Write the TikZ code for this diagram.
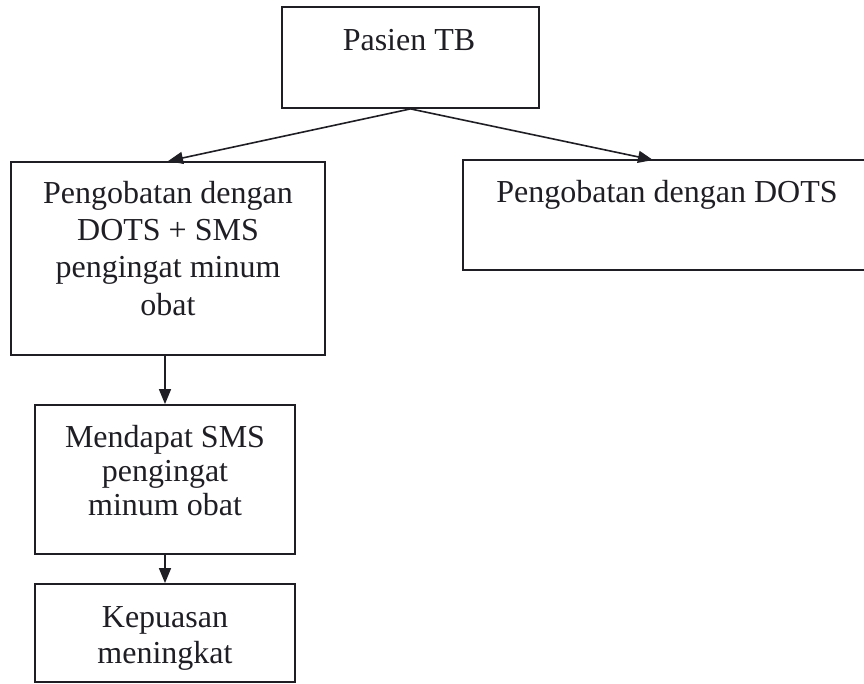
\documentclass[tikz,border=0pt]{standalone}
\usepackage{fontspec}
\setmainfont{Liberation Serif}
\usetikzlibrary{arrows.meta}
\definecolor{ink}{RGB}{30,30,36}
\tikzset{
  box/.style={draw=ink, line width=1.8pt, rectangle, inner sep=0pt},
  txt/.style={anchor=base, inner sep=0pt, text=ink, font=\fontsize{32}{38}\selectfont},
  conn/.style={draw=ink, line width=1.6pt, -{Triangle[length=15pt,width=12pt]}}
}
\begin{document}
\begin{tikzpicture}[x=1pt,y=-1pt]
\useasboundingbox (0,0) rectangle (864,683);
\clip (0,0) rectangle (864,683);
% boxes
\node[box, minimum width=257pt, minimum height=101pt] (top) at (410.5,57.5) {};
\node[box, minimum width=314pt, minimum height=193pt] (L) at (168,258.5) {};
\node[box, minimum width=437pt, minimum height=110pt] (R) at (681.5,215) {};
\node[box, minimum width=260pt, minimum height=149pt] (M) at (165,479.5) {};
\node[box, minimum width=260pt, minimum height=98pt] (B) at (165,633) {};
% texts
\node[txt] (t1) at (409,50) {Pasien TB};
\node[txt] (t2) at (168,203) {Pengobatan dengan};
\node[txt] (t3) at (168,240.3) {DOTS + SMS};
\node[txt] (t4) at (168,277.7) {pengingat minum};
\node[txt] (t5) at (168,315) {obat};
\node[txt] (t6) at (667,202) {Pengobatan dengan DOTS};
\node[txt] (t7) at (165,447) {Mendapat SMS};
\node[txt] (t8) at (165,481) {pengingat};
\node[txt] (t9) at (165,515) {minum obat};
\node[txt] (t10) at (165,627) {Kepuasan};
\node[txt] (t11) at (165,663) {meningkat};
% connectors
\coordinate (rtip) at (653,160);
\draw[conn] (top.south) -- (L.north);
\draw[conn] (top.south) -- (rtip);
\draw[conn] (L.south -| M.north) -- (M.north);
\draw[conn] (M.south) -- (B.north);
\end{tikzpicture}
\end{document}
